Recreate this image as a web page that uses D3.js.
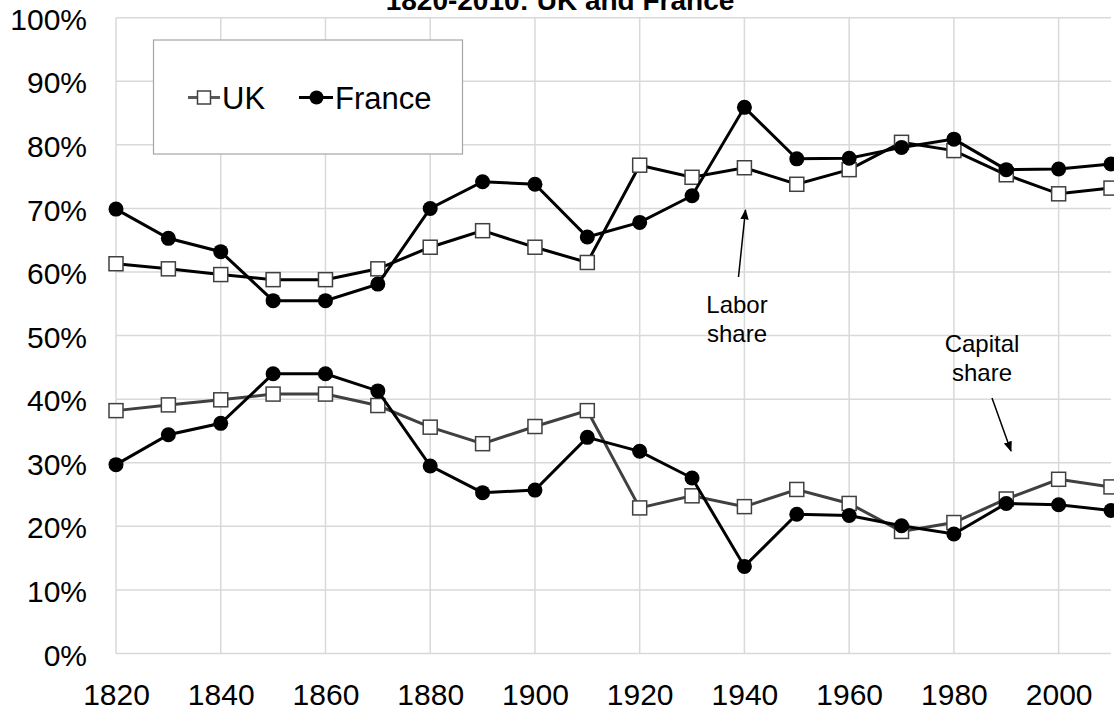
<!DOCTYPE html>
<html>
<head>
<meta charset="utf-8">
<script src="https://cdn.jsdelivr.net/npm/d3@7"></script>
<style>
  body { margin: 0; background: #fff; }
  svg { font-family: "Liberation Sans", Arial, sans-serif; }
</style>
</head>
<body>
<div id="chart"></div>
<script>
// values, in percent
const years = [1820, 1830, 1840, 1850, 1860, 1870, 1880, 1890, 1900, 1910,
               1920, 1930, 1940, 1950, 1960, 1970, 1980, 1990, 2000, 2010];
const ukLabor = [61.3, 60.5, 59.6, 58.8, 58.8, 60.5, 63.9, 66.5, 63.9, 61.5,
                 76.8, 74.9, 76.4, 73.8, 76.1, 80.4, 79.1, 75.3, 72.3, 73.2];
const franceLabor = [69.9, 65.3, 63.2, 55.5, 55.5, 58.1, 70.0, 74.2, 73.8, 65.5,
                     67.8, 72.0, 85.9, 77.8, 77.9, 79.6, 80.9, 76.1, 76.2, 77.0];
const ukCapital = [38.2, 39.1, 39.9, 40.8, 40.8, 39.0, 35.6, 33.0, 35.7, 38.2,
                   22.9, 24.8, 23.1, 25.8, 23.6, 19.2, 20.6, 24.3, 27.4, 26.2];
const franceCapital = [29.7, 34.4, 36.2, 44.0, 44.0, 41.3, 29.5, 25.3, 25.7, 34.0,
                       31.8, 27.6, 13.7, 21.9, 21.7, 20.1, 18.8, 23.6, 23.4, 22.5];
const yTicks = [0, 10, 20, 30, 40, 50, 60, 70, 80, 90, 100];
const xTicks = [1820, 1840, 1860, 1880, 1900, 1920, 1940, 1960, 1980, 2000];

const width = 1114, height = 715;
const plotLeft = 116, plotRight = 1111, plotTop = 17.7, plotBottom = 653.5;

const svg = d3.select("#chart").append("svg")
    .attr("width", width)
    .attr("height", height);

const x = d3.scaleLinear().domain([1820, 2010]).range([plotLeft, plotRight]);
const y = d3.scaleLinear().domain([0, 100]).range([plotBottom, plotTop]);

// grid
svg.append("g")
    .selectAll("line")
    .data(yTicks)
    .join("line")
    .attr("x1", plotLeft).attr("x2", plotRight)
    .attr("y1", d => y(d)).attr("y2", d => y(d))
    .attr("stroke", "#d9d9d9").attr("stroke-width", 1.5);

svg.append("g")
    .selectAll("line")
    .data(xTicks)
    .join("line")
    .attr("x1", d => x(d)).attr("x2", d => x(d))
    .attr("y1", plotTop).attr("y2", plotBottom)
    .attr("stroke", "#d9d9d9").attr("stroke-width", 1.5);

// axes (labels only)
const yAxis = svg.append("g")
    .attr("transform", `translate(${plotLeft},2)`)
    .call(d3.axisLeft(y).tickValues(yTicks).tickFormat(d => d + "%").tickSize(0).tickPadding(29));
const xAxis = svg.append("g")
    .attr("transform", `translate(0,${plotBottom})`)
    .call(d3.axisBottom(x).tickValues(xTicks).tickFormat(d3.format("d")).tickSize(0).tickPadding(30));
[yAxis, xAxis].forEach(a => {
    a.select(".domain").remove();
    a.selectAll("text")
        .attr("font-family", "Liberation Sans, Arial, sans-serif")
        .attr("font-size", 30)
        .attr("fill", "#000");
});

// title (second line, partly cut off at the top)
svg.append("text")
    .attr("x", 560).attr("y", 10)
    .attr("text-anchor", "middle")
    .attr("font-size", 28).attr("font-weight", "bold")
    .text("1820-2010: UK and France");

const line = d3.line()
    .x((d, i) => x(years[i]))
    .y(d => y(d));

function drawUK(values, color) {
    const g = svg.append("g");
    g.append("path")
        .attr("d", line(values))
        .attr("fill", "none")
        .attr("stroke", color)
        .attr("stroke-width", 3);
    g.selectAll("rect")
        .data(values)
        .join("rect")
        .attr("x", (d, i) => x(years[i]) - 7)
        .attr("y", d => y(d) - 7)
        .attr("width", 14).attr("height", 14)
        .attr("fill", "#fff")
        .attr("stroke", "#404040")
        .attr("stroke-width", 1.5);
}

function drawFrance(values) {
    const g = svg.append("g");
    g.append("path")
        .attr("d", line(values))
        .attr("fill", "none")
        .attr("stroke", "#000")
        .attr("stroke-width", 3);
    g.selectAll("circle")
        .data(values)
        .join("circle")
        .attr("cx", (d, i) => x(years[i]))
        .attr("cy", d => y(d))
        .attr("r", 7.5)
        .attr("fill", "#000");
}

drawUK(ukCapital, "#404040");
drawUK(ukLabor, "#000");
drawFrance(franceCapital);
drawFrance(franceLabor);

// legend
const legend = svg.append("g");
legend.append("rect")
    .attr("x", 153.5).attr("y", 40)
    .attr("width", 309).attr("height", 114)
    .attr("fill", "#fff")
    .attr("stroke", "#a6a6a6").attr("stroke-width", 1.2);
legend.append("line")
    .attr("x1", 188).attr("x2", 220).attr("y1", 97.5).attr("y2", 97.5)
    .attr("stroke", "#595959").attr("stroke-width", 3);
legend.append("rect")
    .attr("x", 197.5).attr("y", 91).attr("width", 13).attr("height", 13)
    .attr("fill", "#fff").attr("stroke", "#404040").attr("stroke-width", 1.5);
legend.append("text")
    .attr("x", 222).attr("y", 109)
    .attr("font-size", 31)
    .text("UK");
legend.append("line")
    .attr("x1", 299).attr("x2", 333).attr("y1", 97.5).attr("y2", 97.5)
    .attr("stroke", "#000").attr("stroke-width", 3);
legend.append("circle")
    .attr("cx", 316.5).attr("cy", 97.5).attr("r", 7)
    .attr("fill", "#000");
legend.append("text")
    .attr("x", 335).attr("y", 109)
    .attr("font-size", 31)
    .text("France");

// annotations
svg.append("defs").append("marker")
    .attr("id", "arrow")
    .attr("viewBox", "0 0 10 10")
    .attr("refX", 9).attr("refY", 5)
    .attr("markerWidth", 7).attr("markerHeight", 7)
    .attr("orient", "auto")
    .append("path")
    .attr("d", "M0,1 L10,5 L0,9 Z")
    .attr("fill", "#000");

const notes = [
    { lines: ["Labor", "share"], cx: 737, base: 312.5, from: [738.5, 277], to: [745.5, 210] },
    { lines: ["Capital", "share"], cx: 982, base: 351.5, from: [992, 398], to: [1011, 451] }
];
notes.forEach(n => {
    const t = svg.append("text")
        .attr("text-anchor", "middle")
        .attr("font-size", 24);
    n.lines.forEach((s, i) => {
        t.append("tspan")
            .attr("x", n.cx)
            .attr("y", n.base + i * 29.5)
            .text(s);
    });
    svg.append("line")
        .attr("x1", n.from[0]).attr("y1", n.from[1])
        .attr("x2", n.to[0]).attr("y2", n.to[1])
        .attr("stroke", "#000").attr("stroke-width", 1.5)
        .attr("marker-end", "url(#arrow)");
});
</script>
</body>
</html>
